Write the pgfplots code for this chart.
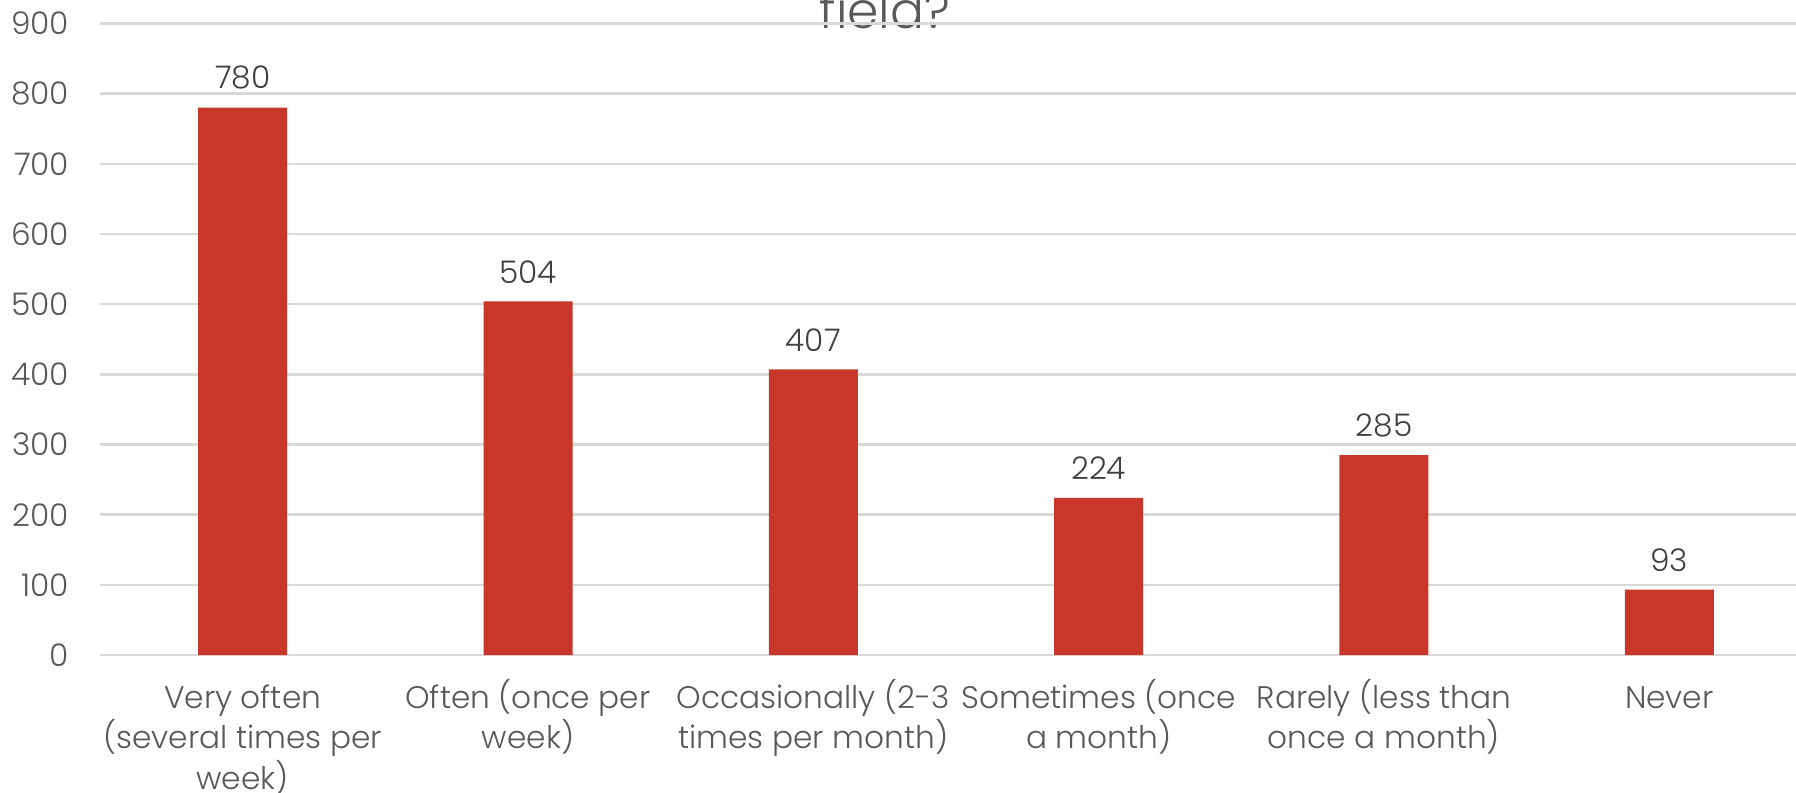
\documentclass[border=0pt]{standalone}
\usepackage{pgfplots}
\pgfplotsset{compat=1.18}
\usepackage{fontspec}
\setmainfont{Poppins}[UprightFont={* Light}]
\definecolor{barred}{HTML}{C8372A}
\definecolor{labelgray}{HTML}{595959}
\definecolor{valgray}{HTML}{404040}
\definecolor{gridgray}{HTML}{D9D9D9}
% category label: centred lines, baseline on the first line
\newcommand{\lbl}[1]{\begin{tabular}[t]{@{}c@{}}#1\end{tabular}}
\begin{document}
\begin{tikzpicture}
\clip (0,0) rectangle (449pt,198pt);
\node[anchor=base, font=\fontsize{12.6}{14}\selectfont, text=labelgray] at (221.25pt,190.9pt) {field?};
\begin{axis}[
  at={(25pt,34.25pt)}, anchor=south west,
  scale only axis, width=424pt, height=157.9pt,
  xmin=-0.5, xmax=5.444, ymin=0, ymax=900,
  ytick={0,100,...,900},
  xtick={0,1,2,3,4,5},
  xticklabels={{\lbl{Very often\\(several times per\\week)}},{\lbl{Often (once per\\week)}},{\lbl{Occasionally (2-3\\times per month)}},{\lbl{Sometimes (once\\a month)}},{\lbl{Rarely (less than\\once a month)}},{\lbl{Never}}},
  axis line style={draw=none},
  tick style={draw=none},
  ymajorgrids, grid style={gridgray, line width=0.6pt},
  /pgf/number format/assume math mode=true,
  ticklabel style={font=\fontsize{7.8}{9.7}\selectfont, text=labelgray},
  xticklabel style={anchor=base, inner sep=0pt, yshift=-9pt},
  yticklabel style={anchor=east, inner sep=0pt, xshift=-7.5pt},
  ybar, bar width=22.25pt,
  nodes near coords,
  nodes near coords style={font=\fontsize{7.8}{9.45}\selectfont, text=valgray, anchor=south, inner sep=0pt, yshift=4.3pt},
  clip=false,
]
\addplot[fill=barred, draw=none] coordinates {(0,780) (1,504) (2,407) (3,224) (4,285) (5,93)};
\end{axis}
\end{tikzpicture}
\end{document}
